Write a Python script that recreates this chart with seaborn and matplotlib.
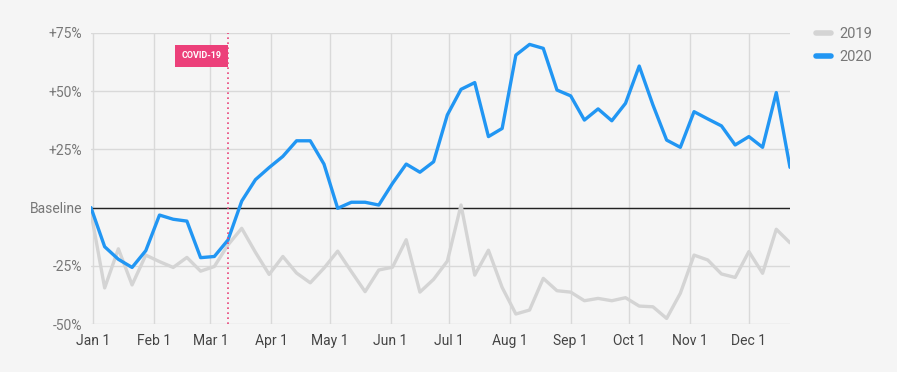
import matplotlib.pyplot as plt
import matplotlib.dates as mdates
import pandas as pd
import seaborn as sns

# weekly change vs. the first week, in %
weeks = pd.date_range("2019-12-31", periods=52, freq="7D")
change_2019 = [-2, -34.5, -17.7, -33.2, -20.4, -23.2, -25.7, -21.4, -27.3, -25.3,
               -16, -8.9, -19.2, -28.7, -21, -28.1, -32.3, -26, -18.7, -27.5,
               -36.1, -26.8, -25.6, -13.8, -36.3, -30.8, -23, 1.1, -29, -18.3,
               -34.3, -45.7, -44, -30.4, -35.7, -36.3, -40, -39, -40, -38.7,
               -42.3, -42.6, -47.6, -36.8, -20.4, -22.5, -28.5, -30, -18.9, -28.2,
               -9.3, -15.1]
change_2020 = [0, -16.8, -22.2, -25.7, -18.5, -3.2, -5.0, -5.8, -21.5, -21.0,
               -13.9, 2.8, 12.0, 17.2, 22.0, 28.7, 28.7, 18.7, -0.3, 2.3,
               2.3, 1.1, 10.4, 18.7, 15.2, 19.7, 39.8, 50.8, 53.7, 30.5,
               34.0, 65.5, 70.1, 68.4, 50.5, 48.0, 37.6, 42.4, 37.3, 44.8,
               60.8, 44.1, 29.0, 25.9, 41.2, 38.1, 35.1, 26.9, 30.5, 25.9,
               49.4, 17.3]
y_ticks = [-50, -25, 0, 25, 50, 75]
y_labels = ["-50%", "-25%", "Baseline", "+25%", "+50%", "+75%"]
covid_date = pd.Timestamp("2020-03-10")

df = pd.DataFrame({
    "week": list(weeks) * 2,
    "change": change_2019 + change_2020,
    "year": ["2019"] * len(weeks) + ["2020"] * len(weeks),
})

bg = "#F5F5F5"
sns.set_theme(style="whitegrid", rc={
    "figure.facecolor": bg,
    "axes.facecolor": bg,
    "grid.color": "#D9D9D9",
    "grid.linewidth": 1.0,
})
plt.rcParams["font.family"] = ["Roboto", "DejaVu Sans"]

fig = plt.figure(figsize=(8.97, 3.72), dpi=100)
ax = fig.add_axes([0.1014, 0.129, 0.7793, 0.7823])

sns.lineplot(data=df, x="week", y="change", hue="year",
             palette={"2019": "#D4D4D4", "2020": "#2196F3"},
             linewidth=2.4, ax=ax)

ax.axhline(0, color="#222222", linewidth=1.0, zorder=1.5)
ax.axvline(covid_date, color="#E8457A", linestyle=(0, (1, 2)), linewidth=1.2)
ax.annotate("COVID-19", xy=(covid_date, 65.2), xytext=(-4.6, 0),
            textcoords="offset points", ha="right", va="center",
            fontsize=6.5, fontweight="bold", color="white",
            bbox=dict(boxstyle="square,pad=0.7", fc="#EC407A", ec="none"))

ax.set_xlim(weeks[0], weeks[-1])
ax.set_ylim(-50, 75)
ax.xaxis.set_major_locator(mdates.MonthLocator())
ax.xaxis.set_major_formatter(mdates.DateFormatter("%b %-d"))
ax.set_yticks(y_ticks)
ax.set_yticklabels(y_labels)
ax.tick_params(axis="x", colors="#444444", labelsize=10, length=0, pad=7)
ax.tick_params(axis="y", colors="#777777", labelsize=10, length=0, pad=6)
ax.set_xlabel("")
ax.set_ylabel("")
for s in ax.spines.values():
    s.set_visible(False)

sns.move_legend(ax, "upper left", bbox_to_anchor=(1.019, 1.065), frameon=False,
                title=None, handlelength=1.0, handletextpad=0.6,
                fontsize=10.5, labelspacing=0.6)
leg = ax.get_legend()
for line in leg.get_lines():
    line.set_linewidth(4)
for t in leg.get_texts():
    t.set_color("#777777")

fig.savefig("out.png", dpi=100, facecolor=bg)
plt.close(fig)
